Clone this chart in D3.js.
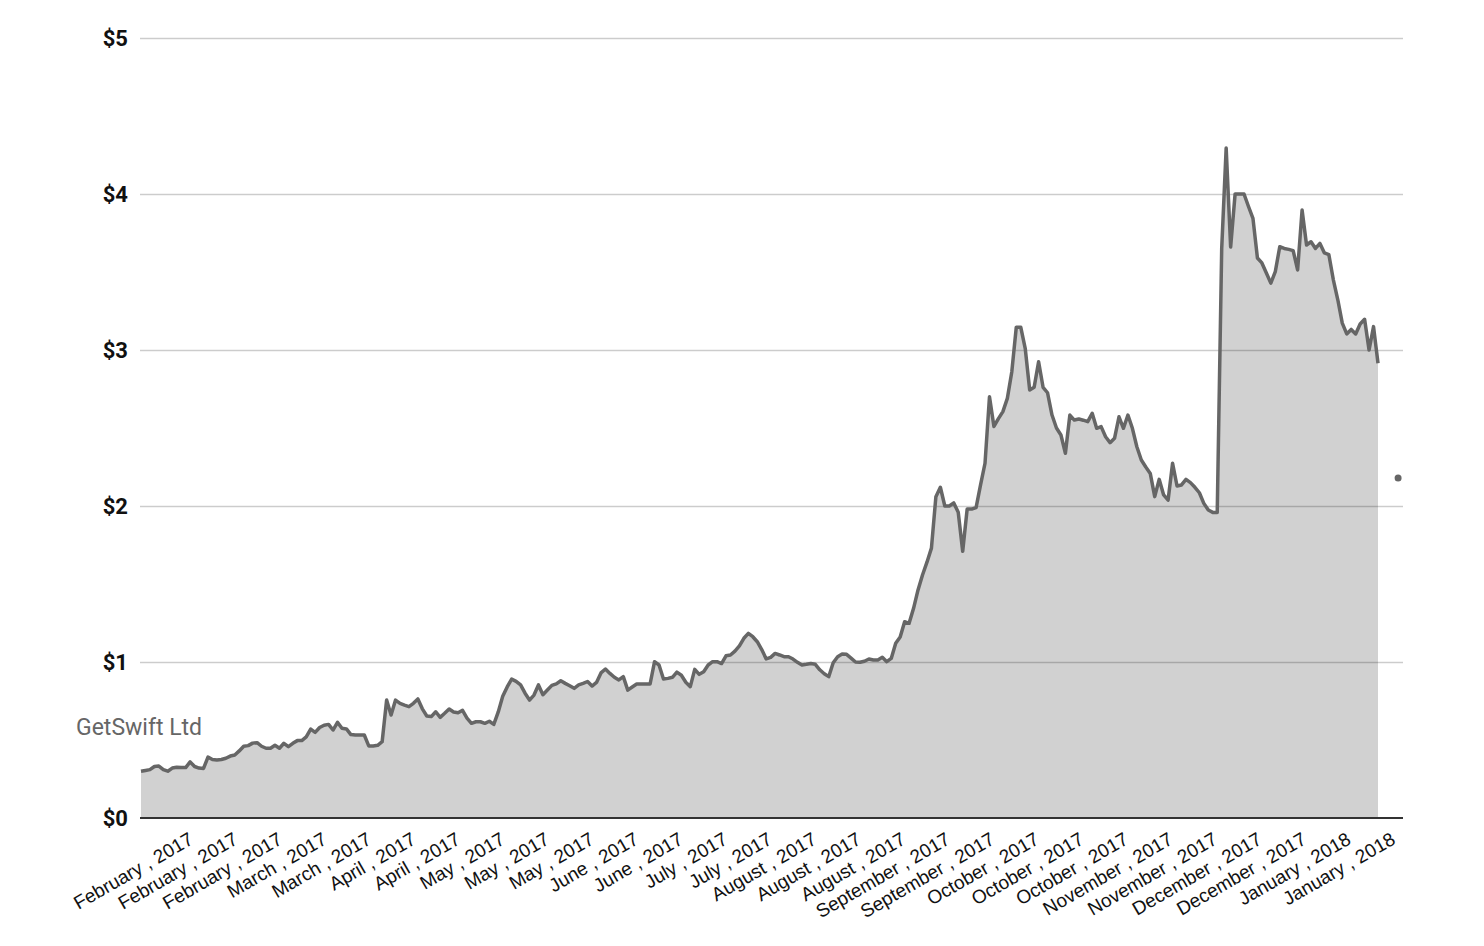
<!DOCTYPE html>
<html lang="en">
<head>
<meta charset="utf-8" />
<title>GetSwift Ltd</title>
<script src="https://d3js.org/d3.v7.min.js"></script>
<style>
    body { margin: 0; background: #fff; }
    .ylab text { font: bold 22px Roboto, sans-serif; fill: #111; }
    .xlab { font: 19px "Liberation Sans", Arial, sans-serif; fill: #111; }
</style>
</head>
<body>
<div id="chart"></div>
<script>
    // closing price, one value per point along the line
    const prices = [
        0.30, 0.305, 0.31, 0.33, 0.333, 0.31, 0.30, 0.32, 0.325, 0.323,
        0.323, 0.36, 0.33, 0.32, 0.318, 0.39, 0.375, 0.372, 0.375, 0.383,
        0.397, 0.404, 0.43, 0.46, 0.464, 0.48, 0.483, 0.46, 0.447, 0.447,
        0.466, 0.447, 0.479, 0.457, 0.479, 0.496, 0.496, 0.52, 0.57, 0.549,
        0.58, 0.595, 0.60, 0.564, 0.613, 0.575, 0.571, 0.535, 0.532, 0.532,
        0.532, 0.462, 0.462, 0.466, 0.489, 0.756, 0.66, 0.756, 0.735, 0.724,
        0.714, 0.735, 0.763, 0.70, 0.654, 0.650, 0.681, 0.645, 0.671, 0.699,
        0.68, 0.675, 0.69, 0.64, 0.607, 0.617, 0.617, 0.607, 0.62, 0.60,
        0.68, 0.78, 0.84, 0.89, 0.876, 0.853, 0.80, 0.756, 0.788, 0.853,
        0.79, 0.82, 0.85, 0.86, 0.88, 0.863, 0.848, 0.831, 0.853, 0.863,
        0.875, 0.846, 0.869, 0.93, 0.955, 0.927, 0.902, 0.885, 0.906, 0.82,
        0.84, 0.859, 0.859, 0.859, 0.859, 1.002, 0.981, 0.891, 0.895, 0.902,
        0.935, 0.915, 0.87, 0.842, 0.953, 0.921, 0.938, 0.981, 1.002, 1.002,
        0.99, 1.04, 1.045, 1.07, 1.103, 1.152, 1.184, 1.162, 1.13, 1.08,
        1.02, 1.03, 1.055, 1.045, 1.034, 1.034, 1.019, 0.998, 0.981, 0.985,
        0.99, 0.985, 0.95, 0.925, 0.906, 0.995, 1.034, 1.051, 1.049, 1.025,
        1.00, 0.998, 1.005, 1.019, 1.013, 1.013, 1.03, 1.002, 1.023, 1.12,
        1.16, 1.258, 1.248, 1.344, 1.462, 1.558, 1.64, 1.73, 2.06, 2.12,
        2.00, 2.00, 2.02, 1.96, 1.71, 1.98, 1.98, 1.99, 2.135, 2.274,
        2.70, 2.51, 2.56, 2.605, 2.69, 2.861, 3.146, 3.146, 3.011, 2.744,
        2.761, 2.925, 2.761, 2.726, 2.583, 2.50, 2.455, 2.338, 2.583, 2.551,
        2.558, 2.55, 2.541, 2.594, 2.498, 2.509, 2.444, 2.406, 2.434, 2.572,
        2.498, 2.583, 2.498, 2.38, 2.295, 2.25, 2.209, 2.06, 2.171, 2.071,
        2.038, 2.274, 2.128, 2.135, 2.171, 2.150, 2.12, 2.085, 2.017, 1.974,
        1.959, 1.959, 3.65, 4.295, 3.66, 4.00, 4.00, 4.00, 3.92, 3.844,
        3.59, 3.558, 3.494, 3.429, 3.502, 3.662, 3.651, 3.645, 3.637, 3.513,
        3.897, 3.673, 3.694, 3.651, 3.683, 3.622, 3.611, 3.45, 3.322, 3.172,
        3.103, 3.132, 3.103, 3.167, 3.197, 3.0, 3.15, 2.915
    ];

    // labels shown on the x axis, one every 10 points
    const tickLabels = [
        "February , 2017", "February , 2017", "February , 2017", "March , 2017",
        "March , 2017", "April , 2017", "April , 2017", "May , 2017",
        "May , 2017", "May , 2017", "June , 2017", "June , 2017",
        "July , 2017", "July , 2017", "August , 2017", "August , 2017",
        "August , 2017", "September , 2017", "September , 2017", "October , 2017",
        "October , 2017", "October , 2017", "November , 2017", "November , 2017",
        "December , 2017", "December , 2017", "January , 2018", "January , 2018"
    ];
    const firstTick = 12, tickStep = 9.97;

    const yTicks = [0, 1, 2, 3, 4, 5];
    const seriesName = "GetSwift Ltd";
    // lone point drawn at the right edge
    const extraPoint = { index: 281.5, value: 2.18 };

    const width = 1484, height = 946;
    const plot = { left: 141, right: 1378, gridRight: 1403, top: 38, bottom: 818 };

    const x = d3.scaleLinear().domain([0, prices.length - 1]).range([plot.left, plot.right]);
    const y = d3.scaleLinear().domain([0, 5]).range([plot.bottom, plot.top]);

    const svg = d3.select("#chart").append("svg")
        .attr("width", width)
        .attr("height", height);

    // area under the line
    const area = d3.area()
        .x((d, i) => x(i))
        .y0(y(0))
        .y1(d => y(d));

    svg.append("path")
        .datum(prices)
        .attr("d", area)
        .attr("fill", "#d1d1d1");

    // grid lines, drawn over the fill so they show through
    const grid = svg.append("g")
        .attr("transform", "translate(" + (plot.left - 1) + ",0)")
        .call(d3.axisLeft(y).tickValues(yTicks.slice(1))
            .tickSize(-(plot.gridRight - plot.left + 1)).tickFormat(""));
    grid.select(".domain").remove();
    grid.selectAll("line").attr("stroke", "#000").attr("stroke-opacity", 0.2).attr("stroke-width", 1.5);

    // the price line
    const line = d3.line()
        .x((d, i) => x(i))
        .y(d => y(d));

    svg.append("path")
        .datum(prices)
        .attr("d", line)
        .attr("fill", "none")
        .attr("stroke", "#666")
        .attr("stroke-width", 3.5)
        .attr("stroke-linejoin", "round");

    // y labels
    const yAxis = svg.append("g")
        .attr("class", "ylab")
        .attr("transform", "translate(" + (plot.left - 1) + ",0)")
        .call(d3.axisLeft(y).tickValues(yTicks).tickSize(0).tickPadding(12)
            .tickFormat(d => "$" + d));
    yAxis.select(".domain").remove();

    // baseline
    svg.append("line")
        .attr("x1", plot.left - 1).attr("x2", plot.gridRight)
        .attr("y1", y(0)).attr("y2", y(0))
        .attr("stroke", "#333").attr("stroke-width", 2);

    // x labels, rotated
    const tickIdx = tickLabels.map((d, i) => firstTick + i * tickStep);
    svg.append("g").selectAll("text")
        .data(tickLabels)
        .enter()
        .append("text")
        .attr("class", "xlab")
        .attr("text-anchor", "end")
        .attr("transform", (d, i) => "translate(" + x(tickIdx[i]) + "," + (y(0) + 25) + ") rotate(-30)")
        .text(d => d);

    // series name
    svg.append("text")
        .attr("x", 76)
        .attr("y", 735)
        .attr("font-family", "Roboto, sans-serif")
        .attr("font-size", 23)
        .attr("fill", "#666")
        .text(seriesName);

    svg.append("circle")
        .attr("cx", x(extraPoint.index))
        .attr("cy", y(extraPoint.value))
        .attr("r", 3.5)
        .attr("fill", "#666");
</script>
</body>
</html>
